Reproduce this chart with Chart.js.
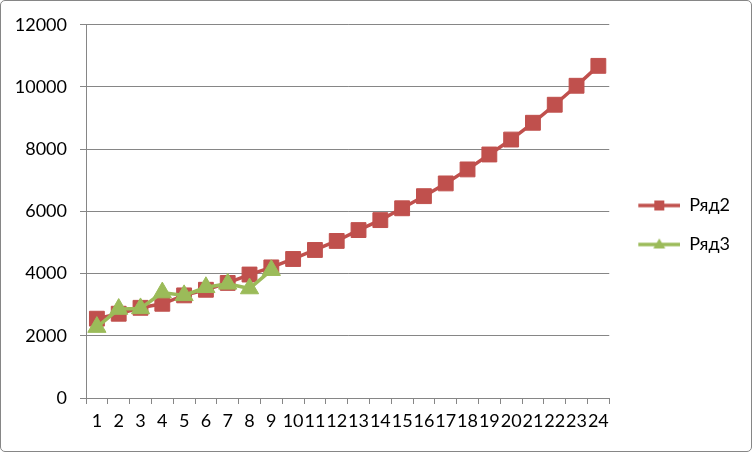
<!DOCTYPE html>
<html>
<head>
<meta charset="utf-8">
<script src="https://cdn.jsdelivr.net/npm/chart.js@4/dist/chart.umd.min.js"></script>
<style>
  html, body { margin: 0; padding: 0; background: #fff; }
  #wrap {
    width: 750px; height: 450px;
    border: 1px solid #868686; border-radius: 5px;
    overflow: hidden; background: #fff;
  }
</style>
</head>
<body>
<div id="wrap"><canvas id="lineChart" width="750" height="450"></canvas></div>
<script>
// values
const categories = ['1', '2', '3', '4', '5', '6', '7', '8', '9', '10', '11', '12',
  '13', '14', '15', '16', '17', '18', '19', '20', '21', '22', '23', '24'];
const ryad2 = [2550, 2710, 2900, 3030, 3300, 3480, 3700, 3970, 4200, 4470, 4760, 5050,
  5400, 5720, 6100, 6490, 6900, 7350, 7830, 8310, 8850, 9430, 10040, 10680];
const ryad3 = [2280, 2860, 2880, 3390, 3300, 3560, 3670, 3520, 4110];
const yTicks = [0, 2000, 4000, 6000, 8000, 10000, 12000];

const red = '#C0504D';
const green = '#9BBB59';
const gray = '#868686';

Chart.defaults.font.family = 'Lato, "Open Sans", sans-serif';
Chart.defaults.font.size = 18;
Chart.defaults.color = '#000';

// legend sample: line with marker, like the office legend
function legendIcon(color, marker) {
  const c = document.createElement('canvas');
  c.width = 50; c.height = 20;
  const ctx = c.getContext('2d');
  ctx.strokeStyle = color;
  ctx.lineWidth = 3.5;
  ctx.beginPath();
  ctx.moveTo(8, 10);
  ctx.lineTo(50, 10);
  ctx.stroke();
  ctx.fillStyle = color;
  if (marker === 'rect') {
    ctx.fillRect(24, 5, 10, 10);
  } else {
    ctx.beginPath();
    ctx.moveTo(29, 4);
    ctx.lineTo(35, 14);
    ctx.lineTo(23, 14);
    ctx.closePath();
    ctx.fill();
  }
  return c;
}

const icons = [legendIcon(red, 'rect'), legendIcon(green, 'triangle')];

const data = {
  labels: categories,
  datasets: [
    {
      label: 'Ряд2',
      data: ryad2,
      borderColor: red,
      backgroundColor: red,
      borderWidth: 3.5,
      pointStyle: 'rect',
      pointRadius: 10.5,
      pointBorderWidth: 1,
      pointHoverRadius: 10.5,
      tension: 0,
      order: 1
    },
    {
      label: 'Ряд3',
      data: ryad3,
      borderColor: green,
      backgroundColor: green,
      borderWidth: 3.5,
      pointStyle: 'triangle',
      pointRadius: 10.5,
      pointBorderWidth: 1,
      pointHoverRadius: 10.5,
      tension: 0,
      order: 0
    }
  ]
};

const config = {
  type: 'line',
  data,
  options: {
    responsive: false,
    animation: false,
    layout: { padding: { left: 0, top: 22, right: 11, bottom: 24 } },
    plugins: {
      tooltip: { enabled: false },
      legend: {
        position: 'right',
        align: 'center',
        labels: {
          usePointStyle: true,
          pointStyleWidth: 50,
          padding: 21,
          color: '#000',
          font: { size: 18 },
          generateLabels(chart) {
            return chart.data.datasets.map((ds, i) => ({
              text: ds.label,
              pointStyle: icons[i],
              fillStyle: ds.borderColor,
              strokeStyle: ds.borderColor,
              lineWidth: 0,
              hidden: false,
              datasetIndex: i,
              fontColor: '#000'
            }));
          }
        }
      }
    },
    scales: {
      x: {
        offset: true,
        grid: {
          offset: true,
          drawOnChartArea: false,
          drawTicks: true,
          tickLength: 6,
          color: gray
        },
        border: { color: gray, width: 1 },
        ticks: {
          autoSkip: false,
          maxRotation: 0,
          minRotation: 0,
          padding: 6,
          color: '#000'
        },
        afterFit(scale) { scale.height = 29; }
      },
      y: {
        min: 0,
        max: 12000,
        afterBuildTicks(scale) {
          scale.ticks = yTicks.map(v => ({ value: v }));
        },
        grid: {
          color: gray,
          tickLength: 6,
          lineWidth: 1
        },
        border: { color: gray, width: 1 },
        ticks: {
          padding: 13,
          color: '#000',
          callback: v => String(v)
        },
        afterFit(scale) { scale.width = 85; }
      }
    }
  }
};

const myChart = new Chart(document.getElementById('lineChart'), config);
</script>
</body>
</html>
